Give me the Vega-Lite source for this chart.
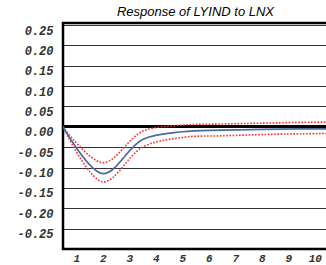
{
  "$schema": "https://vega.github.io/schema/vega-lite/v6.json",
  "autosize": "none",
  "width": 265,
  "height": 226,
  "padding": {"left": 63, "top": 23, "right": 0, "bottom": 16},
  "background": "white",
  "title": {"text": "Response of LYIND to LNX", "font": "Liberation Sans", "fontStyle": "italic", "fontWeight": "normal", "fontSize": 13, "color": "#000", "offset": 4, "anchor": "middle"},
  "config": {"view": {"stroke": "#000", "strokeWidth": 2.5}},
  "data": {"values": [
    {"period": 0.5, "series": "IRF", "value": 0},
    {"period": 2, "series": "IRF", "value": -0.115},
    {"period": 3.5, "series": "IRF", "value": -0.031},
    {"period": 5, "series": "IRF", "value": -0.012},
    {"period": 6.5, "series": "IRF", "value": -0.008},
    {"period": 8, "series": "IRF", "value": -0.006},
    {"period": 9.5, "series": "IRF", "value": -0.005},
    {"period": 11, "series": "IRF", "value": -0.005},
    {"period": 0.5, "series": "Upper", "value": 0},
    {"period": 2, "series": "Upper", "value": -0.088},
    {"period": 3.5, "series": "Upper", "value": -0.011},
    {"period": 5, "series": "Upper", "value": 0.004},
    {"period": 6.5, "series": "Upper", "value": 0.007},
    {"period": 8, "series": "Upper", "value": 0.009},
    {"period": 9.5, "series": "Upper", "value": 0.011},
    {"period": 11, "series": "Upper", "value": 0.012},
    {"period": 0.5, "series": "Lower", "value": 0},
    {"period": 2, "series": "Lower", "value": -0.135},
    {"period": 3.5, "series": "Lower", "value": -0.050},
    {"period": 5, "series": "Lower", "value": -0.026},
    {"period": 6.5, "series": "Lower", "value": -0.022},
    {"period": 8, "series": "Lower", "value": -0.019},
    {"period": 9.5, "series": "Lower", "value": -0.017},
    {"period": 11, "series": "Lower", "value": -0.016}
  ]},
  "encoding": {
    "x": {"field": "period", "type": "quantitative",
      "scale": {"domain": [0.5, 10.5], "nice": false, "zero": false},
      "axis": {"title": null, "grid": false, "domain": false, "ticks": false,
        "values": [1, 2, 3, 4, 5, 6, 7, 8, 9, 10],
        "format": "d",
        "labelFont": "Liberation Mono", "labelFontStyle": "italic", "labelFontWeight": "bold", "labelFontSize": 11, "labelColor": "#333",
        "labelPadding": 3, "labelFlush": false, "labelOverlap": false}},
    "y": {"field": "value", "type": "quantitative",
      "scale": {"domain": [-0.30, 0.255], "nice": false, "zero": false},
      "axis": {"title": null, "grid": true, "gridColor": "#333", "gridWidth": 1.2, "domain": false, "ticks": false,
        "values": [-0.25, -0.2, -0.15, -0.1, -0.05, 0, 0.05, 0.1, 0.15, 0.2, 0.25],
        "labelExpr": "replace(format(datum.value, '.2f'), '\u2212', '-')",
        "labelFont": "Liberation Mono", "labelFontStyle": "italic", "labelFontWeight": "bold", "labelFontSize": 12, "labelColor": "#333",
        "labelPadding": 10, "labelOffset": 5, "labelFlush": false, "labelOverlap": false}}
  },
  "layer": [
    {"mark": {"type": "rule", "color": "#000", "strokeWidth": 2.2}, "encoding": {"y": {"datum": 0}, "x": null}},
    {"transform": [{"filter": "datum.series !== 'IRF'"}],
     "mark": {"type": "line", "interpolate": "catmull-rom", "clip": true, "color": "#ff2a2a", "strokeWidth": 1.6, "strokeDash": [1.6, 1.6]},
     "encoding": {"detail": {"field": "series"}}},
    {"transform": [{"filter": "datum.series === 'IRF'"}],
     "mark": {"type": "line", "interpolate": "catmull-rom", "clip": true, "color": "#4a6aa0", "strokeWidth": 1.7}}
  ]
}
